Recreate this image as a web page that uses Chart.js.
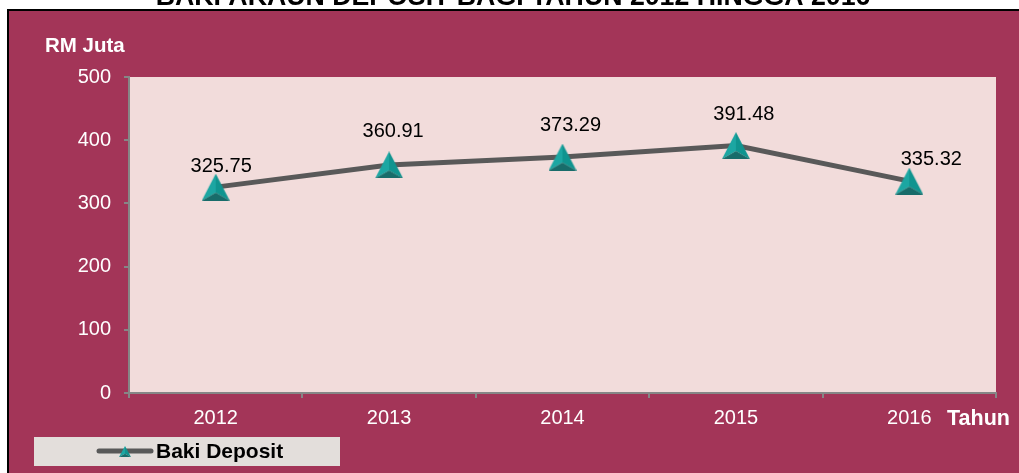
<!DOCTYPE html>
<html>
<head>
<meta charset="utf-8">
<script src="https://cdn.jsdelivr.net/npm/chart.js@4.4.1/dist/chart.umd.min.js"></script>
<style>
  html, body { margin: 0; padding: 0; background: #ffffff; }
  #wrap { position: relative; width: 1019px; height: 473px; }
</style>
</head>
<body>
<div id="wrap"><canvas id="c" width="1019" height="473"></canvas></div>
<script>
// ---- data ----
const titleText = "BAKI AKAUN DEPOSIT BAGI TAHUN 2012 HINGGA 2016";
const yAxisTitle = "RM Juta";
const xAxisTitle = "Tahun";
const seriesName = "Baki Deposit";
const categories = ["2012", "2013", "2014", "2015", "2016"];
const bakiDeposit = [325.75, 360.91, 373.29, 391.48, 335.32];
const yTicks = [0, 100, 200, 300, 400, 500];

// ---- styles ----
const FONT = '"Liberation Sans", Arial, Helvetica, sans-serif';
const MAROON = '#A33558';
const PLOT_BG = '#F2DCDB';
const LEGEND_BG = '#E3DEDB';
const AXIS_GRAY = '#868686';
const LINE_GRAY = '#595959';

function makeTriangle(w, h) {
  const cv = document.createElement('canvas');
  cv.width = w; cv.height = h;
  const g = cv.getContext('2d');
  const ax = w / 2, ay = 0, blx = 0, bly = h, brx = w, bry = h;
  const cx = w / 2, cy = h * 0.70;
  g.fillStyle = '#1CA6A2';
  g.beginPath(); g.moveTo(ax, ay); g.lineTo(blx, bly); g.lineTo(cx, cy); g.closePath(); g.fill();
  g.fillStyle = '#10948F';
  g.beginPath(); g.moveTo(ax, ay); g.lineTo(cx, cy); g.lineTo(brx, bry); g.closePath(); g.fill();
  g.fillStyle = '#186C6A';
  g.beginPath(); g.moveTo(blx, bly); g.lineTo(brx, bry); g.lineTo(cx, cy); g.closePath(); g.fill();
  return cv;
}
const triBig = makeTriangle(28, 27);
const triSmall = makeTriangle(12, 11);

const decorPlugin = {
  id: 'decor',
  beforeDraw(chart) {
    const ctx = chart.ctx, a = chart.chartArea;
    ctx.save();
    ctx.fillStyle = '#ffffff';
    ctx.fillRect(0, 0, chart.width, chart.height);
    ctx.fillStyle = '#000000';
    ctx.fillRect(7, 9, chart.width - 7, chart.height - 9);
    ctx.fillStyle = MAROON;
    ctx.fillRect(9, 11, chart.width - 9, chart.height - 11);
    // title (cut off at top)
    ctx.fillStyle = '#000000';
    let fs = 24;
    ctx.font = 'bold ' + fs + 'px ' + FONT;
    const tw = ctx.measureText(titleText).width;
    fs = fs * 715 / tw;
    ctx.font = 'bold ' + fs.toFixed(2) + 'px ' + FONT;
    ctx.textAlign = 'center';
    ctx.textBaseline = 'alphabetic';
    ctx.fillText(titleText, 513, 5);
    // plot area
    ctx.fillStyle = PLOT_BG;
    ctx.fillRect(a.left, a.top, a.right - a.left, a.bottom - a.top);
    ctx.restore();
  },
  afterDraw(chart, args, opts) {
    const ctx = chart.ctx;
    ctx.save();
    // axis titles
    ctx.fillStyle = '#ffffff';
    ctx.textAlign = 'left';
    ctx.textBaseline = 'alphabetic';
    ctx.font = 'bold 20.5px ' + FONT;
    ctx.fillText(yAxisTitle, 45, 52);
    ctx.font = 'bold 21.5px ' + FONT;
    ctx.fillText(xAxisTitle, 947, 425);
    // data labels
    const meta = chart.getDatasetMeta(0);
    ctx.fillStyle = '#000000';
    ctx.font = '20px ' + FONT;
    ctx.textAlign = 'center';
    meta.data.forEach((pt, i) => {
      const n = opts.labelNudge[i];
      ctx.fillText(bakiDeposit[i].toFixed(2), pt.x + n[0], pt.y - n[1]);
    });
    // legend
    ctx.fillStyle = LEGEND_BG;
    ctx.fillRect(34, 437, 306, 29);
    ctx.strokeStyle = LINE_GRAY;
    ctx.lineWidth = 5;
    ctx.lineCap = 'round';
    ctx.beginPath(); ctx.moveTo(99, 451); ctx.lineTo(151, 451); ctx.stroke();
    ctx.drawImage(triSmall, 125 - 6, 451.5 - 5.5);
    ctx.fillStyle = '#000000';
    ctx.font = 'bold 21px ' + FONT;
    ctx.textAlign = 'left';
    ctx.fillText(seriesName, 156, 458);
    ctx.restore();
  }
};

new Chart(document.getElementById('c'), {
  type: 'line',
  data: {
    labels: categories,
    datasets: [{
      label: seriesName,
      data: bakiDeposit,
      borderColor: LINE_GRAY,
      backgroundColor: LINE_GRAY,
      borderWidth: 5,
      tension: 0,
      fill: false,
      pointStyle: triBig,
      pointRadius: 13,
      pointHoverRadius: 13
    }]
  },
  options: {
    responsive: false,
    animation: false,
    events: [],
    layout: { padding: { left: 0, right: 23, top: 77, bottom: 0 } },
    plugins: {
      legend: { display: false },
      tooltip: { enabled: false },
      title: { display: false },
      decor: { labelNudge: [[5.5, 15], [4, 28], [8, 26.5], [8, 26], [22, 16]] }
    },
    scales: {
      x: {
        type: 'category',
        offset: true,
        grid: { offset: true, drawOnChartArea: false, drawTicks: true, tickLength: 5, color: AXIS_GRAY, lineWidth: 2 },
        border: { display: true, color: AXIS_GRAY, width: 2 },
        ticks: { color: '#ffffff', font: { size: 20, family: FONT }, padding: 8, maxRotation: 0 },
        afterFit(s) { s.height = 80; }
      },
      y: {
        min: 0, max: 500,
        afterBuildTicks(s) { s.ticks = yTicks.map(v => ({ value: v })); },
        grid: { drawOnChartArea: false, drawTicks: true, tickLength: 5, color: AXIS_GRAY, lineWidth: 2 },
        border: { display: true, color: AXIS_GRAY, width: 2 },
        ticks: { color: '#ffffff', font: { size: 20, family: FONT }, padding: 13 },
        afterFit(s) { s.width = 129; }
      }
    }
  },
  plugins: [decorPlugin]
});
</script>
</body>
</html>
